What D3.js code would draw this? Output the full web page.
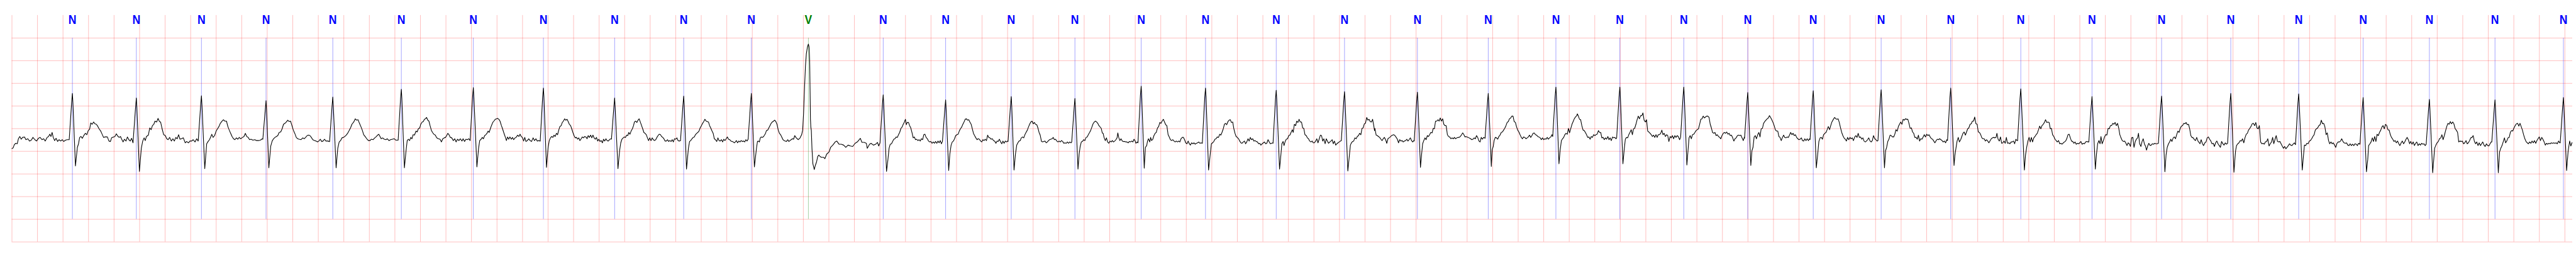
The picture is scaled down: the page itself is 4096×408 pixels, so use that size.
<!DOCTYPE html>
<html><head><meta charset="utf-8">
<script src="https://cdn.jsdelivr.net/npm/d3@7"></script>
<style>html,body{margin:0;padding:0;background:#fff;overflow:hidden}</style>
</head><body>
<svg id="chart" width="4096" height="408"></svg>
<script>
// R-peak times (s) and beat annotations
const beatTimes = [0.476,0.977,1.487,1.993,2.516,3.053,3.617,4.166,4.724,5.265,5.795,6.242,6.828,7.317,7.831,8.330,8.849,9.353,9.907,10.442,11.013,11.568,12.098,12.599,13.100,13.601,14.114,14.646,15.191,15.740,16.298,16.843,17.385,17.917,18.422,18.941,19.455,19.991];
const beatLabels = ["N","N","N","N","N","N","N","N","N","N","N","V","N","N","N","N","N","N","N","N","N","N","N","N","N","N","N","N","N","N","N","N","N","N","N","N","N","N"];
const labelColors = {N:"#0000ff", V:"#008000"};
// ECG samples per beat: [ms relative to R peak, mV]
const beatWaves = [
[[-476,-0.45],[-464,-0.43],[-455,-0.36],[-444,-0.33],[-432,-0.34],[-423,-0.23],[-412,-0.18],[-401,-0.24],[-390,-0.20],[-375,-0.19],[-364,-0.25],[-349,-0.23],[-336,-0.28],[-322,-0.26],[-309,-0.20],[-294,-0.25],[-281,-0.28],[-266,-0.22],[-253,-0.20],[-238,-0.25],[-225,-0.23],[-213,-0.28],[-198,-0.20],[-187,-0.18],[-177,-0.13],[-168,-0.18],[-159,-0.09],[-150,-0.20],[-139,-0.27],[-128,-0.22],[-116,-0.29],[-105,-0.25],[-92,-0.28],[-79,-0.25],[-68,-0.29],[-54,-0.26],[-41,-0.25],[-25,-0.25],[-6,0.57],[0,0.77],[4,0.57],[24,-0.83],[31,-0.64],[39,-0.42],[48,-0.34],[57,-0.20],[67,-0.18],[78,-0.22],[91,-0.15],[102,-0.11],[113,-0.14],[124,-0.05],[135,-0.02],[144,0.12],[155,0.09],[166,0.14],[176,0.10],[187,0.09],[198,0.05],[209,-0.01],[222,-0.06],[233,-0.13],[244,-0.20],[255,-0.19],[274,-0.19],[286,-0.28],[298,-0.29],[307,-0.21],[322,-0.19],[333,-0.18],[344,-0.12],[355,-0.17],[366,-0.20],[377,-0.18],[386,-0.24],[397,-0.30],[408,-0.24],[420,-0.28],[431,-0.19],[442,-0.25],[453,-0.28],[464,-0.22],[475,-0.32]],
[[-25,-0.28],[-6,0.47],[0,0.67],[4,0.47],[24,-0.95],[39,-0.44],[50,-0.28],[61,-0.21],[70,-0.27],[79,-0.18],[94,-0.15],[105,0.01],[116,-0.03],[126,0.06],[137,0.09],[146,0.16],[159,0.14],[170,0.22],[181,0.15],[190,0.14],[201,0.00],[214,-0.14],[227,-0.16],[238,-0.23],[249,-0.25],[261,-0.20],[274,-0.28],[286,-0.23],[298,-0.28],[309,-0.20],[320,-0.23],[331,-0.14],[342,-0.24],[353,-0.23],[368,-0.21],[383,-0.32],[394,-0.29],[408,-0.32],[420,-0.28],[434,-0.28],[445,-0.25],[460,-0.30],[473,-0.23],[484,-0.28]],
[[-25,-0.27],[-6,0.52],[0,0.72],[4,0.52],[26,-0.89],[41,-0.34],[52,-0.29],[63,-0.25],[74,-0.18],[81,-0.13],[91,-0.20],[103,-0.16],[115,-0.06],[126,-0.01],[137,0.04],[148,0.11],[159,0.15],[172,0.19],[183,0.16],[196,0.16],[207,0.04],[218,-0.04],[229,-0.11],[240,-0.18],[251,-0.23],[262,-0.25],[274,-0.21],[285,-0.24],[296,-0.20],[307,-0.23],[322,-0.20],[333,-0.18],[344,-0.11],[355,-0.18],[366,-0.20],[377,-0.25],[388,-0.24],[403,-0.26],[418,-0.25],[432,-0.27],[447,-0.27],[462,-0.26],[477,-0.23]],
[[-25,-0.24],[-6,0.41],[0,0.61],[4,0.41],[22,-0.87],[37,-0.39],[48,-0.28],[59,-0.23],[70,-0.20],[81,-0.18],[92,-0.16],[103,-0.09],[115,-0.08],[126,-0.01],[137,0.09],[148,0.11],[159,0.14],[170,0.18],[181,0.15],[192,0.16],[203,0.06],[214,-0.04],[225,-0.11],[237,-0.20],[248,-0.23],[259,-0.24],[274,-0.25],[288,-0.21],[299,-0.23],[310,-0.20],[322,-0.16],[333,-0.15],[344,-0.16],[355,-0.20],[366,-0.25],[381,-0.27],[392,-0.28],[403,-0.30],[414,-0.28],[425,-0.24],[436,-0.29],[447,-0.28],[458,-0.24],[469,-0.28],[484,-0.28],[495,-0.29]],
[[-25,-0.29],[-6,0.49],[0,0.69],[4,0.49],[26,-0.87],[39,-0.44],[50,-0.30],[61,-0.27],[72,-0.21],[83,-0.20],[94,-0.18],[105,-0.15],[116,-0.11],[128,-0.05],[139,0.01],[150,0.09],[164,0.14],[176,0.21],[187,0.18],[198,0.19],[209,0.11],[220,0.04],[231,-0.04],[242,-0.14],[253,-0.18],[266,-0.23],[279,-0.27],[292,-0.27],[301,-0.24],[316,-0.25],[329,-0.21],[338,-0.19],[351,-0.15],[360,-0.13],[370,-0.18],[379,-0.23],[390,-0.21],[403,-0.24],[416,-0.25],[427,-0.23],[440,-0.27],[453,-0.25],[467,-0.24],[482,-0.23],[493,-0.26]],
[[-25,-0.26],[-6,0.66],[0,0.86],[4,0.66],[24,-0.87],[37,-0.49],[46,-0.27],[55,-0.24],[65,-0.27],[74,-0.20],[83,-0.23],[92,-0.14],[103,-0.15],[115,-0.06],[124,-0.08],[133,-0.01],[144,0.01],[152,0.09],[163,0.14],[172,0.15],[181,0.20],[188,0.21],[198,0.24],[207,0.18],[216,0.16],[225,0.06],[235,-0.04],[244,-0.09],[255,-0.13],[266,-0.15],[277,-0.21],[290,-0.23],[303,-0.24],[314,-0.30],[325,-0.23],[336,-0.21],[346,-0.20],[355,-0.16],[364,-0.11],[373,-0.14],[384,-0.20],[395,-0.21],[407,-0.27],[418,-0.23],[429,-0.30],[440,-0.24],[451,-0.27],[462,-0.23],[475,-0.28],[484,-0.23],[495,-0.29],[506,-0.24],[517,-0.25],[529,-0.23]],
[[-25,-0.27],[-6,0.70],[0,0.90],[4,0.70],[28,-0.85],[41,-0.44],[50,-0.27],[61,-0.24],[70,-0.20],[79,-0.23],[89,-0.16],[98,-0.14],[107,-0.11],[116,-0.06],[124,-0.09],[133,-0.01],[142,0.06],[152,0.13],[161,0.16],[172,0.20],[181,0.21],[190,0.22],[200,0.20],[209,0.16],[220,0.06],[229,-0.01],[238,-0.09],[249,-0.18],[259,-0.27],[268,-0.19],[277,-0.24],[286,-0.19],[298,-0.24],[307,-0.20],[316,-0.25],[327,-0.21],[338,-0.19],[347,-0.15],[357,-0.18],[366,-0.13],[375,-0.18],[384,-0.20],[394,-0.28],[403,-0.20],[412,-0.29],[423,-0.27],[434,-0.23],[445,-0.27],[456,-0.29],[468,-0.21],[479,-0.27],[490,-0.23],[501,-0.28],[512,-0.27],[523,-0.28]],
[[-25,-0.28],[-6,0.69],[0,0.89],[4,0.69],[24,-0.86],[37,-0.42],[46,-0.27],[55,-0.21],[65,-0.18],[74,-0.20],[83,-0.15],[92,-0.18],[102,-0.11],[111,-0.14],[120,-0.04],[129,0.04],[139,0.06],[148,0.13],[157,0.16],[166,0.21],[176,0.18],[185,0.20],[194,0.15],[203,0.09],[213,0.06],[222,-0.01],[231,-0.09],[240,-0.16],[249,-0.21],[259,-0.20],[268,-0.24],[277,-0.21],[286,-0.27],[296,-0.23],[305,-0.19],[314,-0.21],[323,-0.18],[333,-0.19],[342,-0.23],[351,-0.16],[360,-0.20],[370,-0.15],[379,-0.21],[388,-0.15],[397,-0.21],[407,-0.24],[416,-0.20],[425,-0.28],[434,-0.24],[444,-0.29],[453,-0.27],[462,-0.32],[471,-0.24],[480,-0.28],[490,-0.23],[499,-0.27],[508,-0.28],[521,-0.24],[532,-0.23]],
[[-25,-0.24],[-6,0.47],[0,0.67],[4,0.47],[26,-0.89],[39,-0.49],[48,-0.32],[57,-0.24],[67,-0.21],[76,-0.19],[85,-0.20],[94,-0.15],[103,-0.16],[111,-0.09],[120,-0.13],[129,-0.06],[139,-0.01],[148,0.06],[155,0.14],[164,0.16],[174,0.13],[183,0.18],[192,0.21],[201,0.14],[211,0.06],[220,-0.01],[229,-0.09],[238,-0.11],[248,-0.14],[257,-0.21],[266,-0.27],[275,-0.21],[285,-0.27],[294,-0.21],[303,-0.25],[312,-0.27],[322,-0.25],[331,-0.20],[340,-0.16],[349,-0.13],[359,-0.14],[368,-0.18],[377,-0.20],[386,-0.23],[395,-0.28],[405,-0.28],[414,-0.25],[423,-0.29],[432,-0.27],[442,-0.29],[451,-0.25],[460,-0.30],[469,-0.23],[479,-0.24],[488,-0.21],[497,-0.27],[506,-0.28]],
[[-25,-0.27],[-6,0.51],[0,0.71],[4,0.51],[22,-0.90],[37,-0.44],[46,-0.29],[55,-0.27],[65,-0.23],[74,-0.20],[83,-0.19],[92,-0.14],[102,-0.11],[111,-0.09],[120,-0.06],[129,0.01],[139,0.06],[148,0.11],[157,0.15],[166,0.20],[176,0.16],[185,0.15],[194,0.14],[203,0.06],[213,0.00],[222,-0.06],[231,-0.11],[240,-0.23],[249,-0.25],[259,-0.29],[268,-0.21],[277,-0.27],[286,-0.28],[296,-0.25],[305,-0.30],[314,-0.24],[323,-0.27],[333,-0.23],[342,-0.19],[351,-0.24],[360,-0.25],[370,-0.28],[379,-0.29],[388,-0.30],[397,-0.32],[404,-0.30],[413,-0.27],[422,-0.32],[432,-0.28],[441,-0.30],[450,-0.27],[459,-0.29],[469,-0.28],[478,-0.30],[487,-0.25],[496,-0.28]],
[[-25,-0.24],[-6,0.57],[0,0.77],[4,0.57],[24,-0.85],[35,-0.57],[41,-0.42],[48,-0.29],[55,-0.28],[63,-0.30],[70,-0.21],[78,-0.19],[87,-0.20],[96,-0.18],[103,-0.15],[111,-0.11],[118,-0.05],[128,-0.04],[137,0.01],[146,0.06],[155,0.11],[164,0.14],[174,0.16],[183,0.18],[192,0.15],[201,0.09],[211,-0.04],[220,-0.11],[229,-0.14],[238,-0.19],[248,-0.25],[257,-0.27],[266,-0.28],[275,-0.29],[285,-0.25],[294,-0.29],[303,-0.27],[312,-0.25],[322,-0.23],[331,-0.24],[340,-0.16],[349,-0.20],[359,-0.23],[368,-0.25]],
[[-65,-0.21],[-53,-0.14],[-45,-0.04],[-38,0.32],[-30,0.92],[-23,1.38],[-16,1.65],[-8,1.79],[0,1.86],[5,1.80],[10,1.48],[16,0.20],[19,0.03],[23,-0.05],[28,-0.45],[35,-0.78],[46,-0.91],[54,-0.82],[64,-0.74],[73,-0.62],[82,-0.59],[87,-0.61],[101,-0.64],[120,-0.64],[129,-0.67],[143,-0.57],[162,-0.52],[174,-0.42],[191,-0.37],[210,-0.30],[222,-0.28],[240,-0.35],[258,-0.35],[276,-0.37],[293,-0.42],[311,-0.37],[329,-0.39],[347,-0.40],[366,-0.33],[383,-0.30],[407,-0.22],[419,-0.31],[437,-0.31],[454,-0.33],[461,-0.44],[479,-0.35],[491,-0.33],[509,-0.37],[527,-0.35],[541,-0.31],[551,-0.39]],
[[-25,-0.32],[-6,0.54],[0,0.74],[4,0.54],[26,-0.95],[37,-0.69],[46,-0.44],[55,-0.35],[65,-0.34],[74,-0.29],[83,-0.24],[92,-0.23],[102,-0.19],[111,-0.20],[120,-0.14],[129,-0.09],[139,0.00],[148,0.03],[157,0.09],[166,0.14],[174,0.20],[181,0.08],[188,0.13],[198,0.13],[207,0.06],[216,0.01],[225,-0.09],[235,-0.21],[244,-0.19],[253,-0.25],[262,-0.24],[272,-0.27],[281,-0.25],[290,-0.28],[299,-0.23],[309,-0.25],[318,-0.14],[327,-0.13],[336,-0.20],[346,-0.23],[355,-0.28],[364,-0.30],[373,-0.29],[383,-0.33],[392,-0.30],[401,-0.33],[410,-0.29],[420,-0.33],[429,-0.28],[438,-0.32],[447,-0.27],[456,-0.34]],
[[-25,-0.29],[-6,0.43],[0,0.63],[4,0.43],[24,-0.93],[33,-0.57],[43,-0.37],[52,-0.30],[61,-0.28],[70,-0.23],[79,-0.16],[89,-0.14],[98,-0.13],[107,-0.06],[116,-0.01],[126,0.03],[135,0.09],[144,0.14],[153,0.20],[163,0.21],[172,0.18],[181,0.19],[190,0.14],[200,0.09],[209,-0.01],[218,-0.11],[227,-0.16],[237,-0.21],[246,-0.25],[255,-0.23],[264,-0.24],[274,-0.28],[283,-0.30],[292,-0.25],[301,-0.27],[310,-0.24],[320,-0.27],[329,-0.15],[338,-0.20],[347,-0.21],[357,-0.24],[366,-0.23],[375,-0.27],[384,-0.28],[394,-0.33],[403,-0.28],[412,-0.29],[421,-0.24],[431,-0.30],[440,-0.34],[449,-0.28],[458,-0.33],[468,-0.28],[477,-0.30],[486,-0.28]],
[[-25,-0.29],[-6,0.50],[0,0.70],[4,0.50],[22,-0.92],[33,-0.57],[43,-0.37],[52,-0.32],[61,-0.28],[70,-0.27],[79,-0.21],[89,-0.19],[98,-0.21],[107,-0.14],[116,-0.09],[126,-0.04],[135,0.03],[144,0.09],[153,0.14],[163,0.16],[172,0.10],[181,0.13],[190,0.09],[200,0.08],[209,0.01],[218,-0.09],[227,-0.15],[237,-0.29],[246,-0.30],[255,-0.29],[264,-0.28],[274,-0.32],[283,-0.30],[292,-0.27],[301,-0.25],[310,-0.24],[320,-0.23],[329,-0.20],[338,-0.25],[347,-0.24],[357,-0.28],[366,-0.30],[375,-0.28],[384,-0.30],[394,-0.27],[403,-0.29],[412,-0.33],[421,-0.32],[431,-0.33],[440,-0.30],[449,-0.33],[458,-0.30],[468,-0.32]],
[[-25,-0.30],[-6,0.46],[0,0.66],[4,0.46],[24,-0.90],[33,-0.57],[41,-0.40],[50,-0.30],[59,-0.29],[68,-0.25],[78,-0.27],[87,-0.20],[96,-0.19],[105,-0.14],[115,-0.09],[124,-0.04],[133,0.03],[142,0.10],[152,0.14],[161,0.16],[170,0.14],[179,0.11],[188,0.06],[206,0.00],[214,-0.10],[221,-0.11],[228,-0.20],[238,-0.27],[247,-0.21],[256,-0.30],[265,-0.33],[275,-0.28],[284,-0.30],[293,-0.27],[302,-0.30],[312,-0.28],[321,-0.25],[330,-0.21],[336,-0.10],[343,-0.20],[352,-0.27],[361,-0.23],[371,-0.28],[380,-0.29],[389,-0.29],[398,-0.30],[408,-0.30],[417,-0.32],[426,-0.29],[435,-0.30],[445,-0.28],[454,-0.30],[463,-0.24],[472,-0.28],[478,-0.33],[487,-0.30]],
[[-25,-0.32],[-6,0.73],[0,0.93],[4,0.73],[24,-0.88],[33,-0.42],[43,-0.38],[50,-0.28],[57,-0.23],[67,-0.30],[74,-0.20],[81,-0.27],[91,-0.24],[100,-0.16],[109,-0.11],[118,-0.09],[128,0.01],[137,0.04],[146,0.13],[155,0.11],[164,0.16],[174,0.20],[183,0.14],[192,0.08],[201,0.06],[211,-0.14],[220,-0.19],[229,-0.25],[238,-0.27],[248,-0.25],[257,-0.28],[266,-0.30],[275,-0.28],[285,-0.30],[294,-0.28],[303,-0.30],[312,-0.23],[322,-0.20],[331,-0.20],[340,-0.25],[349,-0.32],[359,-0.34],[368,-0.28],[377,-0.34],[386,-0.37],[395,-0.32],[405,-0.34],[414,-0.32],[423,-0.35],[432,-0.33],[442,-0.32],[451,-0.30],[460,-0.33],[469,-0.32]],
[[-25,-0.33],[-6,0.69],[0,0.89],[4,0.69],[24,-0.92],[37,-0.57],[46,-0.34],[55,-0.32],[65,-0.29],[74,-0.24],[83,-0.23],[92,-0.19],[102,-0.20],[111,-0.13],[120,-0.15],[129,-0.09],[139,-0.01],[148,0.09],[157,0.11],[166,0.08],[176,0.15],[185,0.18],[194,0.19],[203,0.13],[213,0.14],[222,-0.01],[231,-0.11],[240,-0.18],[249,-0.20],[259,-0.23],[268,-0.28],[277,-0.32],[286,-0.33],[296,-0.30],[305,-0.28],[314,-0.34],[323,-0.30],[333,-0.23],[342,-0.28],[351,-0.20],[360,-0.25],[370,-0.23],[379,-0.28],[388,-0.27],[397,-0.29],[407,-0.30],[416,-0.34],[425,-0.33],[434,-0.37],[444,-0.34],[453,-0.32],[462,-0.30],[471,-0.34],[480,-0.33],[490,-0.25],[499,-0.30],[508,-0.34],[517,-0.33],[527,-0.32]],
[[-25,-0.33],[-6,0.64],[0,0.84],[4,0.64],[26,-0.90],[37,-0.57],[44,-0.34],[54,-0.29],[61,-0.38],[70,-0.29],[79,-0.24],[89,-0.23],[98,-0.16],[107,-0.15],[116,-0.09],[126,-0.03],[133,-0.09],[142,0.09],[152,0.06],[161,0.16],[170,0.13],[179,0.20],[188,0.14],[198,0.14],[207,0.01],[216,0.00],[225,-0.14],[235,-0.16],[244,-0.21],[253,-0.23],[262,-0.28],[272,-0.30],[281,-0.28],[290,-0.32],[299,-0.32],[309,-0.28],[318,-0.23],[327,-0.32],[336,-0.24],[346,-0.15],[355,-0.16],[364,-0.28],[373,-0.23],[383,-0.34],[392,-0.23],[401,-0.28],[410,-0.33],[420,-0.30],[429,-0.28],[438,-0.25],[447,-0.34],[456,-0.28],[466,-0.37],[475,-0.34],[484,-0.32],[493,-0.30],[503,-0.28]],
[[-25,-0.27],[-6,0.61],[0,0.81],[4,0.61],[26,-0.94],[39,-0.57],[46,-0.37],[54,-0.32],[63,-0.29],[72,-0.28],[81,-0.21],[91,-0.23],[100,-0.18],[109,-0.16],[118,-0.11],[128,-0.14],[137,0.00],[146,0.01],[155,0.10],[164,0.11],[174,0.24],[183,0.18],[192,0.20],[201,0.15],[211,0.14],[220,0.20],[229,0.06],[235,-0.05],[238,0.00],[248,-0.15],[257,-0.16],[266,-0.18],[275,-0.20],[285,-0.24],[294,-0.27],[303,-0.23],[312,-0.20],[322,-0.25],[331,-0.33],[340,-0.23],[349,-0.21],[359,-0.19],[368,-0.16],[377,-0.15],[386,-0.14],[395,-0.16],[405,-0.20],[414,-0.24],[423,-0.32],[432,-0.25],[442,-0.28],[451,-0.27],[460,-0.30],[469,-0.28],[479,-0.27],[488,-0.24],[497,-0.28],[506,-0.25],[516,-0.21],[525,-0.27],[534,-0.30],[543,-0.27]],
[[-25,-0.28],[-6,0.60],[0,0.80],[4,0.60],[24,-0.86],[33,-0.57],[41,-0.34],[50,-0.27],[59,-0.21],[68,-0.25],[78,-0.16],[87,-0.18],[96,-0.14],[105,-0.09],[115,-0.10],[124,0.00],[133,-0.01],[142,0.16],[152,0.16],[161,0.19],[170,0.16],[179,0.23],[188,0.16],[198,0.21],[207,0.09],[216,0.06],[225,0.06],[235,-0.14],[244,-0.18],[253,-0.19],[262,-0.23],[272,-0.21],[281,-0.23],[290,-0.20],[299,-0.23],[309,-0.21],[318,-0.20],[327,-0.20],[336,-0.18],[346,-0.14],[355,-0.10],[364,-0.14],[373,-0.19],[380,-0.18],[398,-0.20],[417,-0.23],[426,-0.25],[435,-0.24],[445,-0.21],[454,-0.23],[463,-0.16],[472,-0.20],[482,-0.28],[491,-0.30],[500,-0.20],[509,-0.24],[519,-0.20]],
[[-25,-0.22],[-6,0.57],[0,0.77],[4,0.57],[24,-0.84],[31,-0.47],[39,-0.40],[46,-0.27],[55,-0.20],[65,-0.21],[74,-0.24],[83,-0.18],[92,-0.15],[102,-0.09],[111,-0.08],[120,-0.04],[129,0.00],[139,0.06],[148,0.13],[157,0.15],[166,0.21],[176,0.23],[185,0.27],[194,0.27],[203,0.15],[213,0.13],[222,0.03],[231,-0.04],[240,-0.08],[249,-0.14],[259,-0.20],[268,-0.23],[277,-0.19],[286,-0.20],[296,-0.23],[305,-0.21],[314,-0.19],[323,-0.15],[333,-0.20],[342,-0.16],[351,-0.11],[360,-0.10],[370,-0.14],[379,-0.15],[388,-0.18],[397,-0.19],[407,-0.21],[416,-0.25],[425,-0.21],[434,-0.25],[444,-0.23],[453,-0.24],[462,-0.20],[471,-0.24],[480,-0.21],[490,-0.19],[499,-0.14]],
[[-25,-0.18],[-6,0.71],[0,0.91],[4,0.71],[24,-0.78],[33,-0.49],[43,-0.27],[52,-0.23],[61,-0.20],[70,-0.14],[79,-0.11],[89,-0.13],[98,0.00],[107,-0.10],[116,-0.01],[126,0.09],[135,0.15],[144,0.21],[153,0.25],[163,0.28],[168,0.32],[176,0.27],[185,0.20],[194,0.19],[203,0.06],[213,-0.04],[222,-0.05],[231,-0.09],[240,-0.14],[249,-0.20],[259,-0.19],[268,-0.24],[277,-0.18],[286,-0.20],[296,-0.14],[305,-0.16],[314,-0.14],[323,-0.13],[333,-0.05],[342,-0.09],[351,-0.09],[360,-0.21],[370,-0.20],[379,-0.25],[388,-0.21],[397,-0.24],[407,-0.18],[416,-0.25],[425,-0.21],[434,-0.27],[444,-0.19],[453,-0.21],[462,-0.20],[471,-0.23]],
[[-25,-0.21],[-6,0.71],[0,0.91],[4,0.71],[24,-0.78],[35,-0.44],[43,-0.24],[52,-0.20],[61,-0.21],[70,-0.14],[79,-0.09],[89,-0.03],[98,-0.14],[107,-0.01],[116,0.00],[126,0.09],[135,0.19],[144,0.27],[153,0.21],[163,0.28],[172,0.28],[181,0.34],[190,0.18],[200,0.14],[209,0.19],[218,-0.06],[227,-0.08],[237,-0.11],[246,-0.14],[255,-0.18],[264,-0.15],[274,-0.20],[283,-0.14],[292,-0.20],[301,-0.14],[310,-0.14],[320,-0.11],[329,-0.04],[338,-0.14],[347,-0.11],[357,-0.18],[366,-0.14],[375,-0.16],[384,-0.29],[394,-0.18],[403,-0.21],[412,-0.16],[421,-0.23],[431,-0.16],[440,-0.20],[449,-0.16],[458,-0.18],[468,-0.25]],
[[-25,-0.20],[-6,0.71],[0,0.91],[4,0.71],[24,-0.81],[33,-0.49],[41,-0.21],[50,-0.16],[59,-0.23],[68,-0.14],[78,-0.13],[87,-0.09],[96,-0.05],[105,-0.03],[115,-0.01],[124,0.09],[133,0.20],[142,0.21],[152,0.27],[161,0.23],[170,0.25],[179,0.27],[188,0.27],[198,0.24],[207,0.09],[216,0.01],[225,-0.09],[235,-0.11],[244,-0.09],[253,-0.16],[262,-0.14],[272,-0.18],[281,-0.20],[290,-0.23],[299,-0.16],[309,-0.11],[318,-0.09],[327,-0.11],[336,-0.08],[346,-0.13],[355,-0.11],[364,-0.16],[373,-0.15],[383,-0.21],[392,-0.28],[401,-0.23],[410,-0.21],[420,-0.16],[429,-0.15],[438,-0.16],[447,-0.15],[456,-0.21],[466,-0.27],[475,-0.19]],
[[-25,-0.22],[-6,0.59],[0,0.79],[4,0.59],[24,-0.82],[33,-0.49],[41,-0.42],[50,-0.19],[59,-0.16],[68,-0.23],[78,-0.14],[87,-0.09],[96,-0.19],[105,-0.01],[115,0.00],[124,0.11],[133,0.15],[142,0.18],[152,0.21],[161,0.23],[170,0.28],[179,0.24],[188,0.19],[198,0.13],[207,0.06],[216,-0.03],[225,-0.06],[235,-0.06],[244,-0.18],[253,-0.20],[262,-0.27],[272,-0.20],[281,-0.15],[290,-0.20],[299,-0.21],[309,-0.19],[318,-0.20],[327,-0.15],[336,-0.09],[346,-0.14],[355,-0.11],[364,-0.16],[373,-0.14],[383,-0.20],[392,-0.23],[401,-0.25],[410,-0.24],[420,-0.21],[429,-0.27],[438,-0.28],[447,-0.23],[456,-0.27],[466,-0.23],[475,-0.27],[484,-0.23]],
[[-25,-0.25],[-6,0.63],[0,0.83],[4,0.63],[24,-0.87],[35,-0.57],[44,-0.29],[54,-0.21],[63,-0.20],[72,-0.24],[81,-0.14],[91,-0.11],[100,-0.09],[109,-0.03],[118,0.04],[128,-0.03],[137,0.06],[146,0.14],[158,0.20],[167,0.24],[177,0.21],[186,0.20],[195,0.21],[204,0.13],[214,0.01],[223,-0.09],[232,-0.16],[241,-0.21],[251,-0.24],[260,-0.28],[269,-0.20],[278,-0.25],[288,-0.20],[297,-0.23],[306,-0.21],[315,-0.27],[325,-0.19],[334,-0.16],[343,-0.20],[352,-0.11],[361,-0.20],[371,-0.19],[380,-0.24],[389,-0.21],[398,-0.28],[408,-0.30],[417,-0.28],[426,-0.25],[435,-0.21],[445,-0.28],[454,-0.30],[463,-0.27],[472,-0.16],[482,-0.23],[491,-0.25],[500,-0.28]],
[[-25,-0.27],[-6,0.65],[0,0.85],[4,0.65],[26,-0.87],[35,-0.49],[43,-0.42],[52,-0.29],[61,-0.24],[70,-0.15],[79,-0.16],[89,-0.19],[98,-0.19],[107,-0.13],[116,-0.03],[126,-0.06],[135,0.04],[144,0.09],[153,0.14],[163,0.09],[172,0.20],[181,0.18],[190,0.21],[200,0.20],[209,0.20],[218,0.11],[227,0.00],[237,0.01],[246,-0.08],[255,-0.11],[264,-0.20],[274,-0.20],[283,-0.24],[292,-0.15],[301,-0.28],[310,-0.23],[320,-0.24],[329,-0.19],[338,-0.14],[347,-0.19],[357,-0.13],[366,-0.16],[375,-0.14],[384,-0.19],[394,-0.23],[403,-0.24],[412,-0.28],[421,-0.32],[431,-0.27],[440,-0.24],[449,-0.25],[458,-0.23],[468,-0.25],[477,-0.27],[486,-0.30],[495,-0.28],[505,-0.32],[514,-0.25]],
[[-25,-0.27],[-6,0.69],[0,0.89],[4,0.69],[26,-0.82],[33,-0.59],[41,-0.44],[50,-0.28],[59,-0.20],[68,-0.30],[78,-0.25],[87,-0.18],[96,-0.11],[105,-0.08],[115,-0.15],[124,-0.08],[133,-0.01],[142,0.01],[152,0.09],[161,0.10],[170,0.16],[179,0.16],[188,0.25],[198,0.10],[207,0.09],[216,-0.08],[225,-0.09],[235,-0.14],[244,-0.21],[253,-0.23],[262,-0.23],[272,-0.28],[281,-0.25],[290,-0.28],[299,-0.32],[309,-0.27],[318,-0.23],[327,-0.21],[336,-0.20],[346,-0.21],[355,-0.20],[362,-0.11],[371,-0.24],[381,-0.28],[390,-0.19],[399,-0.33],[408,-0.32],[418,-0.28],[427,-0.33],[436,-0.20],[445,-0.33],[455,-0.32],[464,-0.34],[473,-0.30],[482,-0.30],[492,-0.28],[501,-0.34],[510,-0.24],[519,-0.27]],
[[-25,-0.27],[-6,0.67],[0,0.87],[4,0.67],[28,-0.92],[37,-0.59],[46,-0.42],[55,-0.29],[65,-0.20],[74,-0.30],[83,-0.20],[92,-0.30],[102,-0.21],[111,-0.18],[120,-0.14],[129,-0.11],[139,-0.03],[148,0.05],[157,-0.01],[166,0.06],[176,0.09],[185,0.13],[194,0.19],[203,0.13],[213,0.14],[222,0.13],[231,-0.01],[240,0.00],[249,-0.14],[259,-0.18],[268,-0.24],[277,-0.27],[286,-0.30],[296,-0.27],[305,-0.34],[314,-0.33],[323,-0.35],[333,-0.32],[342,-0.30],[351,-0.28],[360,-0.23],[370,-0.14],[379,-0.13],[388,-0.21],[397,-0.28],[407,-0.29],[416,-0.33],[425,-0.30],[434,-0.35],[444,-0.33],[453,-0.34],[462,-0.32],[471,-0.29],[480,-0.35],[490,-0.33],[499,-0.34],[508,-0.30],[517,-0.29],[527,-0.30]],
[[-25,-0.30],[-6,0.50],[0,0.70],[4,0.50],[26,-0.90],[35,-0.57],[44,-0.34],[54,-0.27],[63,-0.34],[70,-0.18],[79,-0.34],[89,-0.27],[98,-0.19],[107,-0.14],[116,-0.15],[126,0.00],[135,-0.01],[144,0.06],[153,0.06],[163,0.11],[172,0.09],[181,0.13],[190,0.06],[200,0.11],[209,0.01],[218,-0.14],[227,-0.21],[237,-0.27],[246,-0.29],[255,-0.28],[264,-0.32],[274,-0.38],[283,-0.32],[292,-0.34],[301,-0.40],[310,-0.21],[320,-0.20],[329,-0.42],[338,-0.30],[347,-0.24],[357,-0.21],[364,-0.11],[373,-0.34],[383,-0.40],[392,-0.29],[401,-0.23],[410,-0.34],[420,-0.40],[427,-0.48],[436,-0.39],[445,-0.33],[455,-0.38],[464,-0.37],[473,-0.34],[482,-0.35],[492,-0.33],[501,-0.34],[510,-0.34],[519,-0.33]],
[[-25,-0.33],[-6,0.51],[0,0.71],[4,0.51],[26,-0.96],[35,-0.59],[44,-0.42],[54,-0.34],[63,-0.30],[72,-0.24],[81,-0.29],[91,-0.21],[100,-0.19],[109,-0.23],[118,-0.14],[128,-0.06],[137,-0.09],[146,0.00],[155,0.05],[164,0.06],[174,0.11],[183,0.10],[192,0.13],[201,0.08],[211,0.09],[220,-0.01],[229,-0.16],[238,-0.20],[248,-0.21],[257,-0.25],[266,-0.27],[275,-0.20],[285,-0.28],[301,-0.34],[310,-0.25],[320,-0.34],[329,-0.38],[339,-0.32],[348,-0.30],[357,-0.21],[367,-0.19],[376,-0.24],[386,-0.28],[395,-0.34],[405,-0.33],[414,-0.40],[423,-0.32],[433,-0.28],[442,-0.34],[452,-0.38],[461,-0.42],[470,-0.29],[480,-0.34],[489,-0.37],[499,-0.32],[508,-0.35]],
[[-25,-0.33],[-6,0.57],[0,0.77],[4,0.57],[25,-0.97],[32,-0.69],[38,-0.49],[45,-0.38],[55,-0.34],[64,-0.32],[74,-0.27],[83,-0.28],[92,-0.23],[102,-0.32],[111,-0.21],[121,-0.13],[130,-0.11],[139,-0.04],[149,0.00],[158,0.04],[168,0.10],[177,0.11],[187,0.06],[196,0.13],[205,0.01],[215,-0.01],[224,0.06],[234,-0.30],[243,-0.34],[253,-0.33],[262,-0.35],[271,-0.30],[281,-0.29],[290,-0.23],[300,-0.39],[309,-0.34],[319,-0.30],[328,-0.20],[337,-0.34],[347,-0.24],[356,-0.16],[366,-0.29],[375,-0.30],[385,-0.29],[394,-0.34],[403,-0.39],[413,-0.44],[422,-0.40],[432,-0.45],[441,-0.42],[451,-0.38],[460,-0.34],[469,-0.37],[479,-0.38],[488,-0.35],[498,-0.32]],
[[-25,-0.36],[-6,0.56],[0,0.76],[4,0.56],[28,-0.92],[38,-0.59],[45,-0.37],[55,-0.38],[64,-0.33],[74,-0.34],[83,-0.28],[92,-0.27],[102,-0.23],[111,-0.18],[121,-0.14],[130,-0.04],[139,-0.01],[149,0.01],[158,0.06],[168,0.08],[177,0.18],[187,0.10],[196,0.11],[205,0.04],[215,-0.14],[224,-0.10],[234,-0.27],[243,-0.34],[253,-0.30],[262,-0.34],[271,-0.32],[281,-0.37],[290,-0.42],[300,-0.33],[309,-0.30],[319,-0.30],[328,-0.28],[337,-0.23],[347,-0.29],[356,-0.32],[366,-0.33],[375,-0.32],[385,-0.37],[394,-0.38],[403,-0.34],[413,-0.38],[422,-0.35],[432,-0.38],[441,-0.34],[451,-0.35],[460,-0.38],[469,-0.33]],
[[-25,-0.35],[-6,0.48],[0,0.68],[4,0.48],[26,-0.96],[36,-0.69],[43,-0.38],[53,-0.34],[62,-0.30],[72,-0.21],[81,-0.29],[90,-0.18],[100,-0.29],[109,-0.13],[119,-0.16],[128,-0.09],[138,-0.04],[147,0.03],[156,0.06],[166,-0.01],[175,0.09],[185,0.06],[194,-0.03],[204,-0.04],[213,-0.14],[222,-0.20],[232,-0.24],[241,-0.29],[251,-0.27],[260,-0.32],[270,-0.28],[279,-0.34],[288,-0.38],[298,-0.32],[307,-0.28],[317,-0.34],[326,-0.30],[336,-0.24],[345,-0.20],[354,-0.25],[364,-0.34],[373,-0.29],[383,-0.35],[392,-0.30],[402,-0.38],[411,-0.33],[420,-0.30],[430,-0.38],[439,-0.34],[449,-0.37],[458,-0.33],[467,-0.35],[477,-0.34],[486,-0.38]],
[[-25,-0.35],[-6,0.44],[0,0.64],[4,0.44],[26,-0.98],[34,-0.69],[41,-0.44],[51,-0.37],[60,-0.32],[70,-0.29],[79,-0.23],[89,-0.21],[98,-0.14],[107,-0.25],[117,-0.16],[126,-0.06],[136,0.04],[145,0.11],[155,0.09],[164,0.15],[173,0.10],[183,0.14],[192,0.10],[202,-0.01],[211,-0.04],[221,-0.09],[230,-0.30],[239,-0.28],[249,-0.29],[258,-0.28],[268,-0.34],[277,-0.32],[287,-0.27],[296,-0.34],[305,-0.32],[315,-0.27],[324,-0.21],[334,-0.20],[343,-0.16],[352,-0.28],[362,-0.34],[371,-0.30],[381,-0.38],[390,-0.32],[400,-0.38],[409,-0.34],[418,-0.30],[428,-0.37],[437,-0.40],[447,-0.34],[456,-0.38],[466,-0.39],[475,-0.34],[484,-0.30]],
[[-25,-0.30],[-6,0.43],[0,0.63],[4,0.43],[26,-0.98],[36,-0.52],[45,-0.44],[55,-0.38],[64,-0.30],[74,-0.21],[83,-0.32],[92,-0.28],[102,-0.21],[111,-0.20],[121,-0.08],[130,-0.05],[139,-0.06],[149,0.01],[158,0.06],[168,0.10],[177,0.11],[187,0.05],[196,0.11],[205,0.04],[215,-0.04],[224,-0.14],[234,-0.23],[243,-0.29],[253,-0.32],[262,-0.34],[271,-0.30],[281,-0.33],[290,-0.28],[300,-0.32],[309,-0.27],[319,-0.33],[328,-0.27],[337,-0.23],[347,-0.19],[356,-0.27],[366,-0.20],[375,-0.24],[385,-0.30],[394,-0.37],[403,-0.33],[413,-0.35],[422,-0.33],[432,-0.34],[441,-0.32],[451,-0.33],[460,-0.32],[469,-0.33],[479,-0.32],[488,-0.34],[498,-0.28],[507,-0.32]],
[[-25,-0.32],[-6,0.48],[0,0.68],[4,0.48],[25,-0.93],[37,-0.50],[49,-0.28],[58,-0.39],[68,-0.31]]
];
const timeDomain = [0, 20.06];      // s
const voltDomain = [-2.5, 2.5];     // mV
const timeTicks = d3.range(0, 100.5).map(i => +(i * 0.2).toFixed(1));   // 0.2 s grid
const voltTicks = [-2.5,-2.0,-1.5,-1.0,-0.5,0,0.5,1.0,1.5,2.0];           // 0.5 mV grid
const markerSpan = [-2.0, 2.0];

const svg = d3.select("#chart");
const x = d3.scaleLinear().domain(timeDomain).range([18.5, 4090]);
const y = d3.scaleLinear().domain(voltDomain).range([383.6, 23.9]);

// vertical grid
svg.append("g")
  .attr("transform", `translate(0,${y(voltDomain[0])})`)
  .call(d3.axisBottom(x).tickValues(timeTicks).tickSize(-(y(voltDomain[0]) - y(voltDomain[1]))).tickFormat(""))
  .call(g => g.select(".domain").remove())
  .selectAll("line").attr("stroke", "red").attr("stroke-opacity", 0.25).attr("stroke-width", 1);

// horizontal grid
svg.append("g")
  .attr("transform", `translate(${x(timeDomain[0])},0)`)
  .call(d3.axisLeft(y).tickValues(voltTicks).tickSize(-(x(timeDomain[1]) - x(timeDomain[0]))).tickFormat(""))
  .call(g => g.select(".domain").remove())
  .selectAll("line").attr("stroke", "red").attr("stroke-opacity", 0.25).attr("stroke-width", 1);

const beats = beatTimes.map((t, i) => ({t, label: beatLabels[i]}));

// annotation lines
svg.append("g").selectAll("line").data(beats).join("line")
  .attr("x1", d => x(d.t)).attr("x2", d => x(d.t))
  .attr("y1", y(markerSpan[1])).attr("y2", y(markerSpan[0]))
  .attr("stroke", d => labelColors[d.label]).attr("stroke-opacity", 0.6).attr("stroke-width", 0.6);

// signal
const pts = beatWaves.flatMap((w, i) => w.map(([ms, v]) => [beatTimes[i] + ms / 1000, v]))
  .sort((a, b) => a[0] - b[0]);
svg.append("path").datum(pts)
  .attr("fill", "none").attr("stroke", "#000").attr("stroke-width", 1.1).attr("stroke-linejoin", "round")
  .attr("d", d3.line().x(d => x(d[0])).y(d => y(d[1])));

// labels
svg.append("g").selectAll("text").data(beats).join("text")
  .attr("transform", d => `translate(${x(d.t)},${y(voltDomain[1]) + 14.5}) scale(0.88,1)`)
  .attr("text-anchor", "middle")
  .attr("font-family", "'Liberation Sans', Arial, sans-serif")
  .attr("font-weight", "bold").attr("font-size", 20)
  .attr("fill", d => labelColors[d.label])
  .text(d => d.label);
</script>
</body></html>
